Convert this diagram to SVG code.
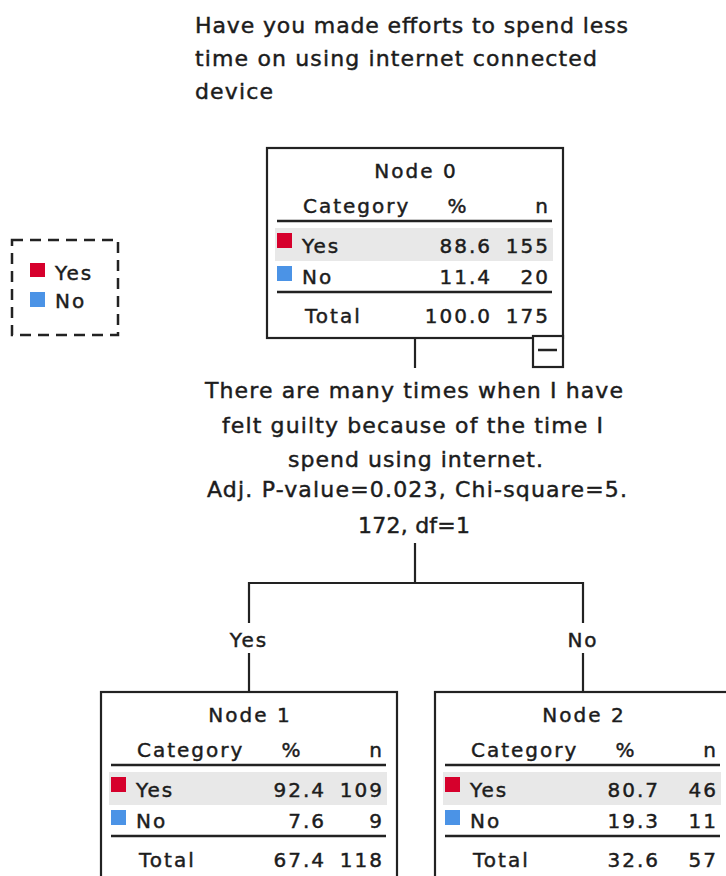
<svg xmlns="http://www.w3.org/2000/svg" width="726" height="876" viewBox="0 0 726 876">
<style>
text{font-family:"DejaVu Sans","Liberation Sans",sans-serif;fill:#1c1c1c;stroke:#1c1c1c;stroke-width:0.45px}
.t{font-size:22px}
.nt{font-size:20px;letter-spacing:2px}
.c{text-anchor:middle}
.e{text-anchor:end}
.box{fill:#fff;stroke:#222;stroke-width:2.2}
.rule{stroke:#222;stroke-width:2.5}
.conn{stroke:#222;stroke-width:2.2;fill:none}
.yes{fill:#d6002c}
.no{fill:#4b93e6}
.row{fill:#e8e8e8}
</style>
<defs>
<g id="tbl">
<rect class="box" x="0" y="0" width="296" height="190"/>
<text class="nt" x="36" y="65">Category</text>
<text class="nt c" x="191" y="65">%</text>
<text class="nt e" x="283" y="65">n</text>
<line class="rule" x1="10" y1="73" x2="285" y2="73"/>
<rect class="row" x="8" y="80" width="278" height="33"/>
<rect class="yes" x="10" y="85" width="15" height="15"/>
<text class="nt" x="35" y="105">Yes</text>
<rect class="no" x="10" y="118" width="15" height="15"/>
<text class="nt" x="35" y="136">No</text>
<line class="rule" x1="10" y1="144" x2="285" y2="144"/>
<text class="nt" x="38" y="175">Total</text>
</g>
</defs>

<g id="title">
<text class="t" x="195" y="33" textLength="433" lengthAdjust="spacing">Have you made efforts to spend less</text>
<text class="t" x="195" y="66" textLength="402" lengthAdjust="spacing">time on using internet connected</text>
<text class="t" x="195" y="99" textLength="78" lengthAdjust="spacing">device</text>
</g>

<g id="legend">
<rect x="12" y="240" width="106" height="95" fill="none" stroke="#222" stroke-width="2.5" stroke-dasharray="11 7"/>
<rect class="yes" x="30" y="263" width="15" height="14"/>
<text class="nt" x="55" y="280">Yes</text>
<rect class="no" x="30" y="292" width="15" height="15"/>
<text class="nt" x="55" y="308">No</text>
</g>

<g id="connectors">
<line class="conn" x1="415" y1="336" x2="415" y2="368"/>
<line class="conn" x1="415" y1="543" x2="415" y2="583"/>
<line class="conn" x1="249" y1="583" x2="583" y2="583"/>
<line class="conn" x1="249" y1="582" x2="249" y2="623"/>
<line class="conn" x1="249" y1="653" x2="249" y2="692"/>
<line class="conn" x1="583" y1="582" x2="583" y2="623"/>
<line class="conn" x1="583" y1="653" x2="583" y2="692"/>
<text class="nt c" x="249" y="647">Yes</text>
<text class="nt c" x="583" y="647">No</text>
</g>

<g id="split">
<text class="t" x="205" y="398" textLength="418" lengthAdjust="spacing">There are many times when I have</text>
<text class="t" x="222" y="433" textLength="381" lengthAdjust="spacing">felt guilty because of the time I</text>
<text class="t" x="288" y="467" textLength="255" lengthAdjust="spacing">spend using internet.</text>
<text class="t" x="207" y="497" textLength="420" lengthAdjust="spacing">Adj. P-value=0.023, Chi-square=5.</text>
<text class="t" x="358" y="533" textLength="112" lengthAdjust="spacing">172, df=1</text>
</g>

<g id="node0" transform="translate(267,148)">
<use href="#tbl"/>
<text class="nt c" x="149" y="30">Node 0</text>
<text class="nt e" x="225" y="105">88.6</text>
<text class="nt e" x="283" y="105">155</text>
<text class="nt e" x="225" y="136">11.4</text>
<text class="nt e" x="283" y="136">20</text>
<text class="nt e" x="225" y="175">100.0</text>
<text class="nt e" x="283" y="175">175</text>
<rect class="box" x="266" y="188" width="30" height="31"/>
<line class="rule" x1="271" y1="202" x2="290" y2="202"/>
</g>

<g id="node1" transform="translate(101,692)">
<use href="#tbl"/>
<text class="nt c" x="149" y="30">Node 1</text>
<text class="nt e" x="225" y="105">92.4</text>
<text class="nt e" x="283" y="105">109</text>
<text class="nt e" x="225" y="136">7.6</text>
<text class="nt e" x="283" y="136">9</text>
<text class="nt e" x="225" y="175">67.4</text>
<text class="nt e" x="283" y="175">118</text>
</g>

<g id="node2" transform="translate(435,692)">
<use href="#tbl"/>
<text class="nt c" x="149" y="30">Node 2</text>
<text class="nt e" x="225" y="105">80.7</text>
<text class="nt e" x="283" y="105">46</text>
<text class="nt e" x="225" y="136">19.3</text>
<text class="nt e" x="283" y="136">11</text>
<text class="nt e" x="225" y="175">32.6</text>
<text class="nt e" x="283" y="175">57</text>
</g>
</svg>
